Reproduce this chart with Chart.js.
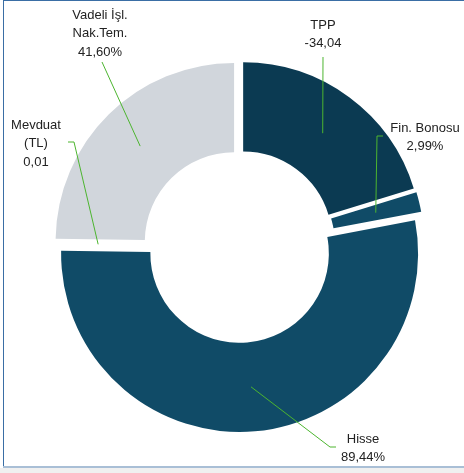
<!DOCTYPE html>
<html>
<head>
<meta charset="utf-8">
<script src="https://cdn.jsdelivr.net/npm/chart.js@4.4.0/dist/chart.umd.min.js"></script>
<style>
  html, body { margin: 0; padding: 0; background: #fff; }
  #wrap { position: relative; width: 464px; height: 473px; overflow: hidden; }
  #frameTop { position: absolute; left: 3px; top: 0; width: 461px; height: 1px; background: #3a6ea5; }
  #frameLeft { position: absolute; left: 3px; top: 0; width: 1px; height: 468px; background: #3a6ea5; }
  #frameBottom { position: absolute; left: 3px; top: 466px; width: 461px; height: 2px; background: #a9bfd6; }
  #below { position: absolute; left: 0; top: 468px; width: 464px; height: 5px; background: #f0f0f0; }
  canvas { position: absolute; left: 0; top: 0; }
</style>
</head>
<body>
<div id="wrap">
  <canvas id="pieChart" width="464" height="473"></canvas>
  <div id="frameTop"></div>
  <div id="frameLeft"></div>
  <div id="frameBottom"></div>
  <div id="below"></div>
</div>
<script>
// dilimler (saat yönünde, tepeden başlayarak)
const categories = ['TPP', 'Fin. Bonosu', 'Hisse', 'Mevduat (TL)', 'Vadeli İşl. Nak.Tem.'];
const sliceValues = [34.04, 2.99, 89.44, 0.01, 41.60];
const valueLabels = ['-34,04', '2,99%', '89,44%', '0,01', '41,60%'];
const nameLines = [['TPP'], ['Fin. Bonosu'], ['Hisse'], ['Mevduat', '(TL)'], ['Vadeli İşl.', 'Nak.Tem.']];
// Mevduat dilimi 0,01 ile görünmüyor
const sliceColors = ['#0b3a52', '#104b67', '#104b67', 'rgba(255,255,255,0)', '#d1d6dc'];

// etiket yerleşimi: metin merkezi + kılavuz çizginin kırılma noktaları
const labelLayout = [
    { x: 323, y: 25, path: [[323, 57]] },
    { x: 425, y: 128, path: [[377, 136], [383, 136]] },
    { x: 363, y: 439, path: [[330, 447], [336, 447]] },
    { x: 36, y: 125, path: [[74, 142], [68, 142]] },
    { x: 100, y: 15, path: [[102, 62]] }
];
const EXPLODE = 7;

function explodeShift(arc) {
    const mid = (arc.startAngle + arc.endAngle) / 2;
    return { dx: Math.cos(mid) * EXPLODE, dy: Math.sin(mid) * EXPLODE };
}

// Excel tarzı ayrık dilimler: her yayı orta açısı yönünde kaydırarak çiz
const explodedArcs = {
    id: 'explodedArcs',
    beforeDatasetDraw(chart, args) {
        const ctx = chart.ctx;
        args.meta.data.forEach(arc => {
            const s = explodeShift(arc);
            ctx.save();
            ctx.translate(s.dx, s.dy);
            arc.draw(ctx, chart.chartArea);
            ctx.restore();
        });
        return false;
    }
};

const sliceLabels = {
    id: 'sliceLabels',
    afterDatasetsDraw(chart) {
        const ctx = chart.ctx;
        const arcs = chart.getDatasetMeta(0).data;
        ctx.save();
        arcs.forEach((arc, i) => {
            const p = arc.getCenterPoint();
            const s = explodeShift(arc);
            const lay = labelLayout[i];
            ctx.beginPath();
            ctx.moveTo(p.x + s.dx, p.y + s.dy);
            lay.path.forEach(pt => ctx.lineTo(pt[0], pt[1]));
            ctx.strokeStyle = '#4cb52f';
            ctx.lineWidth = 1;
            ctx.stroke();

            const lines = nameLines[i].concat([valueLabels[i]]);
            ctx.fillStyle = '#222222';
            ctx.font = '13px "Liberation Sans", Arial, sans-serif';
            ctx.textAlign = 'center';
            ctx.textBaseline = 'middle';
            lines.forEach((t, k) => ctx.fillText(t, lay.x, lay.y + k * 18.5));
        });
        ctx.restore();
    }
};

const ctx = document.getElementById('pieChart').getContext('2d');
new Chart(ctx, {
    type: 'doughnut',
    data: {
        labels: categories,
        datasets: [{
            data: sliceValues,
            backgroundColor: sliceColors,
            borderWidth: 0
        }]
    },
    options: {
        responsive: false,
        animation: false,
        events: [],
        cutout: '50%',
        layout: { padding: { left: 29, right: 15, top: 68, bottom: 48 } },
        plugins: {
            legend: { display: false },
            tooltip: { enabled: false }
        }
    },
    plugins: [explodedArcs, sliceLabels]
});
</script>
</body>
</html>
